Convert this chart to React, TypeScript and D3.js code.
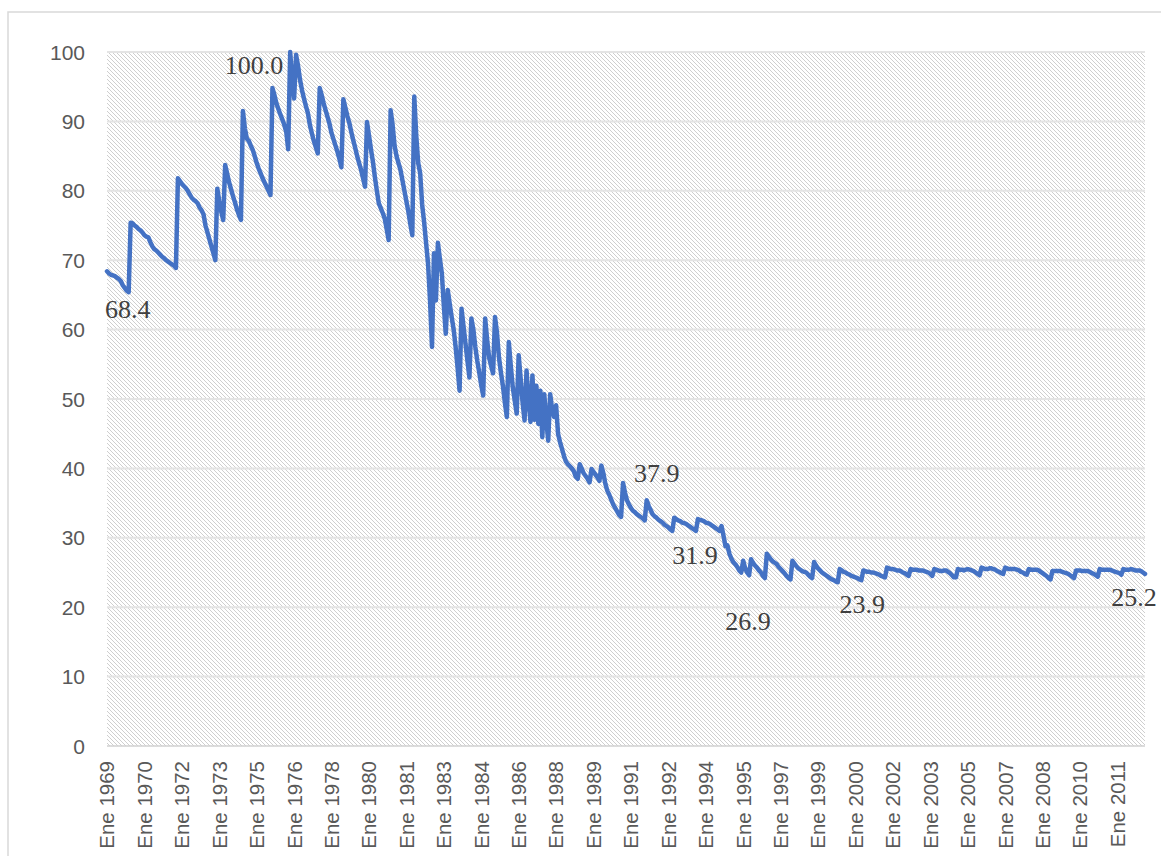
import React from "react";
import * as d3 from "d3";

// category labels shown every 19 months, starting Jan 1969
const xTickLabels = [
  "Ene 1969", "Ene 1970", "Ene 1972", "Ene 1973", "Ene 1975", "Ene 1976", "Ene 1978",
  "Ene 1980", "Ene 1981", "Ene 1983", "Ene 1984", "Ene 1986", "Ene 1988", "Ene 1989",
  "Ene 1991", "Ene 1992", "Ene 1994", "Ene 1995", "Ene 1997", "Ene 1999", "Ene 2000",
  "Ene 2002", "Ene 2003", "Ene 2005", "Ene 2007", "Ene 2008", "Ene 2010", "Ene 2011",
];
const labelEvery = 19;

const yTicks = [0, 10, 20, 30, 40, 50, 60, 70, 80, 90, 100];

// monthly index, Jan 1969 - Dec 2012
const values1969to1975 = [
  68.4, 68.1, 67.9, 67.8, 67.7, 67.5, 67.3, 67.0, 66.4, 66.0, 65.6, 65.4,
  75.4, 75.3, 75.0, 74.8, 74.5, 74.3, 74.0, 73.6, 73.4, 73.3, 72.6, 72.0,
  71.6, 71.4, 71.1, 70.8, 70.5, 70.3, 70.0, 69.8, 69.6, 69.4, 69.2, 68.9,
  81.8, 81.4, 81.0, 80.7, 80.4, 80.0, 79.5, 79.0, 78.7, 78.5, 78.2, 77.6,
  77.2, 76.6, 75.0, 74.0, 73.0, 72.0, 71.0, 70.0, 80.3, 78.5, 77.0, 75.8,
  83.7, 82.5, 81.2, 80.2, 79.2, 78.3, 77.3, 76.5, 75.8, 91.5, 89.0, 87.5,
  87.2, 86.5, 85.9, 85.0, 84.0, 83.2, 82.5, 81.8, 81.2, 80.6, 80.0, 79.4,
];
const values1976to1982 = [
  94.8, 93.8, 92.6, 91.8, 91.0, 90.3, 89.5, 88.5, 86.0, 100.0, 96.0, 93.3,
  99.6, 98.0, 96.0, 94.5, 93.3, 92.2, 91.2, 89.5, 88.3, 87.2, 86.3, 85.4,
  94.8, 93.8, 92.6, 91.6, 90.6, 89.6, 88.3, 87.4, 86.5, 85.6, 84.6, 83.4,
  93.2, 92.0, 90.8, 89.8, 88.5, 87.3, 86.2, 85.0, 84.0, 83.0, 81.8, 80.6,
  89.9, 88.0, 86.0, 84.2, 82.0, 80.0, 78.2, 77.5, 76.8, 76.0, 74.5, 72.9,
  91.6, 89.5, 86.5, 85.0, 84.0, 83.0, 81.5, 80.0, 78.5, 77.0, 75.2, 73.6,
  93.6, 88.0, 84.0, 82.5, 78.0, 75.5, 72.5, 69.5, 64.2, 57.5, 71.0, 64.2,
];
const values1983to1989 = [
  72.5, 70.2, 68.1, 63.5, 59.4, 65.7, 63.7, 61.8, 60.0, 57.5, 54.5, 51.2,
  63.0, 60.5, 58.0, 55.5, 53.1, 61.6, 60.0, 57.5, 55.5, 53.8, 52.0, 50.5,
  61.6, 58.5, 56.0, 54.8, 53.7, 61.8, 59.5, 56.0, 53.8, 51.9, 49.5, 47.4,
  58.2, 54.8, 51.7, 49.8, 47.9, 56.3, 53.0, 49.5, 46.9, 54.1, 50.0, 46.7,
  53.4, 47.0, 51.9, 46.4, 51.2, 44.5, 50.7, 47.0, 44.0, 50.7, 48.5, 47.4,
  49.1, 45.0, 43.8, 42.8, 41.8, 41.0, 40.6, 40.3, 40.0, 39.6, 38.8, 38.5,
  40.6, 40.0, 39.3, 38.9, 38.5, 38.0, 39.9, 39.5, 39.1, 38.7, 38.2, 40.4,
];
const values1990to1996 = [
  39.3, 37.8, 36.8, 36.2, 35.5, 34.8, 34.3, 33.8, 33.3, 33.0, 37.9, 36.5,
  35.4, 34.8, 34.3, 33.9, 33.7, 33.4, 33.2, 33.0, 32.8, 32.5, 35.4, 34.6,
  34.0, 33.4, 33.1, 32.9, 32.6, 32.4, 32.2, 31.9, 31.7, 31.5, 31.2, 31.0,
  32.9, 32.7, 32.5, 32.4, 32.2, 32.1, 32.0, 31.8, 31.6, 31.4, 31.2, 31.0,
  32.7, 32.6, 32.5, 32.4, 32.2, 32.1, 32.0, 31.8, 31.6, 31.4, 31.2, 31.0,
  31.7, 30.3, 28.8, 28.9, 27.7, 27.0, 26.5, 26.2, 25.8, 25.3, 25.0, 26.7,
  25.6, 25.0, 24.6, 26.9, 26.4, 26.0, 25.7, 25.3, 25.0, 24.5, 24.2, 27.7,
];
const values1997to2004 = [
  27.3, 26.9, 26.6, 26.4, 26.2, 25.8, 25.5, 25.2, 24.9, 24.5, 24.2, 24.0,
  26.7, 26.3, 25.9, 25.6, 25.4, 25.2, 25.1, 25.0, 24.7, 24.4, 24.2, 26.5,
  26.0, 25.6, 25.3, 25.0, 24.8, 24.6, 24.4, 24.2, 24.0, 23.9, 23.7, 23.6,
  25.5, 25.3, 25.1, 25.0, 24.8, 24.7, 24.5, 24.4, 24.3, 24.2, 24.0, 23.9,
  25.3, 25.2, 25.1, 25.1, 25.0, 25.0, 24.9, 24.8, 24.7, 24.5, 24.4, 24.3,
  25.7, 25.6, 25.5, 25.5, 25.4, 25.3, 25.3, 25.2, 25.0, 24.9, 24.7, 24.5,
  25.5, 25.4, 25.4, 25.4, 25.3, 25.3, 25.3, 25.2, 25.1, 25.0, 24.8, 24.5,
  25.5, 25.4, 25.3, 25.2, 25.2, 25.3, 25.3, 25.1, 24.9, 24.6, 24.3, 24.3,
];
const values2005to2012 = [
  25.5, 25.4, 25.4, 25.3, 25.4, 25.5, 25.4, 25.3, 25.2, 25.0, 24.8, 24.6,
  25.7, 25.6, 25.5, 25.5, 25.6, 25.6, 25.5, 25.4, 25.2, 25.1, 24.9, 24.8,
  25.7, 25.6, 25.5, 25.5, 25.5, 25.5, 25.4, 25.3, 25.1, 25.0, 24.8, 24.7,
  25.5, 25.4, 25.4, 25.4, 25.4, 25.3, 25.1, 24.9, 24.7, 24.5, 24.2, 24.0,
  25.2, 25.2, 25.2, 25.2, 25.2, 25.1, 25.0, 24.9, 24.8, 24.6, 24.4, 24.2,
  25.3, 25.3, 25.3, 25.2, 25.2, 25.2, 25.2, 25.1, 24.9, 24.8, 24.6, 24.4,
  25.5, 25.4, 25.4, 25.4, 25.4, 25.4, 25.3, 25.2, 25.1, 25.0, 24.9, 24.7,
  25.5, 25.4, 25.4, 25.4, 25.5, 25.4, 25.3, 25.3, 25.3, 25.2, 25.0, 24.8,
];

const values = [
  ...values1969to1975,
  ...values1976to1982,
  ...values1983to1989,
  ...values1990to1996,
  ...values1997to2004,
  ...values2005to2012,
];

// data labels: month index and printed text
const labelIndex = [0, 93, 262, 298, 327, 383, 527];
const labelText = ["68.4", "100.0", "37.9", "31.9", "26.9", "23.9", "25.2"];

// placement of each data label relative to its point
const labelPlacement = [
  { dx: -2, dy: 47, anchor: "start" },
  { dx: -7, dy: 22, anchor: "end" },
  { dx: 11, dy: -1, anchor: "start" },
  { dx: 1, dy: 35, anchor: "middle" },
  { dx: -3, dy: 71, anchor: "middle" },
  { dx: 1, dy: 33, anchor: "middle" },
  { dx: -11, dy: 32, anchor: "middle" },
];

const W = 1161;
const H = 856;
const plot = { left: 107, right: 1145, top: 52, bottom: 746 };

export default function App() {
  const x = d3.scaleLinear().domain([0, values.length - 1]).range([plot.left, plot.right]);
  const y = d3.scaleLinear().domain([0, 100]).range([plot.bottom, plot.top]);

  const line = d3
    .line<number>()
    .x((_, i) => x(i))
    .y((d) => y(d));

  const sans = "'Liberation Sans', Arial, sans-serif";
  const serif = "'Liberation Serif', 'Times New Roman', serif";

  return (
    <svg
      width={W}
      height={H}
      style={{ position: "absolute", left: 0, top: 0, display: "block", background: "#fff" }}
    >
      <defs>
        <pattern id="hatch" width={4} height={4} patternUnits="userSpaceOnUse">
          <rect width={4} height={4} fill="#ffffff" />
          <path d="M-1,-1 L5,5 M3,-1 L5,1 M-1,3 L1,5" stroke="#cfcfcf" strokeWidth={1} />
        </pattern>
      </defs>

      {/* chart border */}
      <rect x={8} y={12} width={1180} height={870} fill="#fff" stroke="#d9d9d9" strokeWidth={1.5} />

      {/* plot area */}
      <rect
        x={plot.left}
        y={plot.top}
        width={plot.right - plot.left}
        height={plot.bottom - plot.top}
        fill="url(#hatch)"
      />

      {/* gridlines */}
      {yTicks.map((t) => (
        <line
          key={t}
          x1={plot.left}
          x2={plot.right}
          y1={y(t)}
          y2={y(t)}
          stroke={t === 0 ? "#d0d0d0" : "#e4e4e4"}
          strokeWidth={t === 0 ? 1.5 : 2}
        />
      ))}

      {/* y labels */}
      {yTicks.map((t) => (
        <text
          key={t}
          x={85}
          y={y(t)}
          dy="0.36em"
          textAnchor="end"
          fontFamily={sans}
          fontSize={21}
          fill="#595959"
        >
          {t}
        </text>
      ))}

      {/* x labels */}
      {xTickLabels.map((lab, i) => (
        <text
          key={lab}
          transform={`translate(${x(i * labelEvery)},761) rotate(-90)`}
          dy="0.36em"
          textAnchor="end"
          fontFamily={sans}
          fontSize={20.5}
          fill="#595959"
        >
          {lab}
        </text>
      ))}

      {/* series */}
      <path
        d={line(values) ?? ""}
        fill="none"
        stroke="#4472C4"
        strokeWidth={4.5}
        strokeLinejoin="round"
        strokeLinecap="round"
      />

      {/* data labels */}
      {labelIndex.map((idx, k) => (
        <text
          key={idx}
          x={x(idx) + labelPlacement[k].dx}
          y={y(values[idx]) + labelPlacement[k].dy}
          textAnchor={labelPlacement[k].anchor}
          fontFamily={serif}
          fontSize={26}
          fill="#404040"
        >
          {labelText[k]}
        </text>
      ))}
    </svg>
  );
}
